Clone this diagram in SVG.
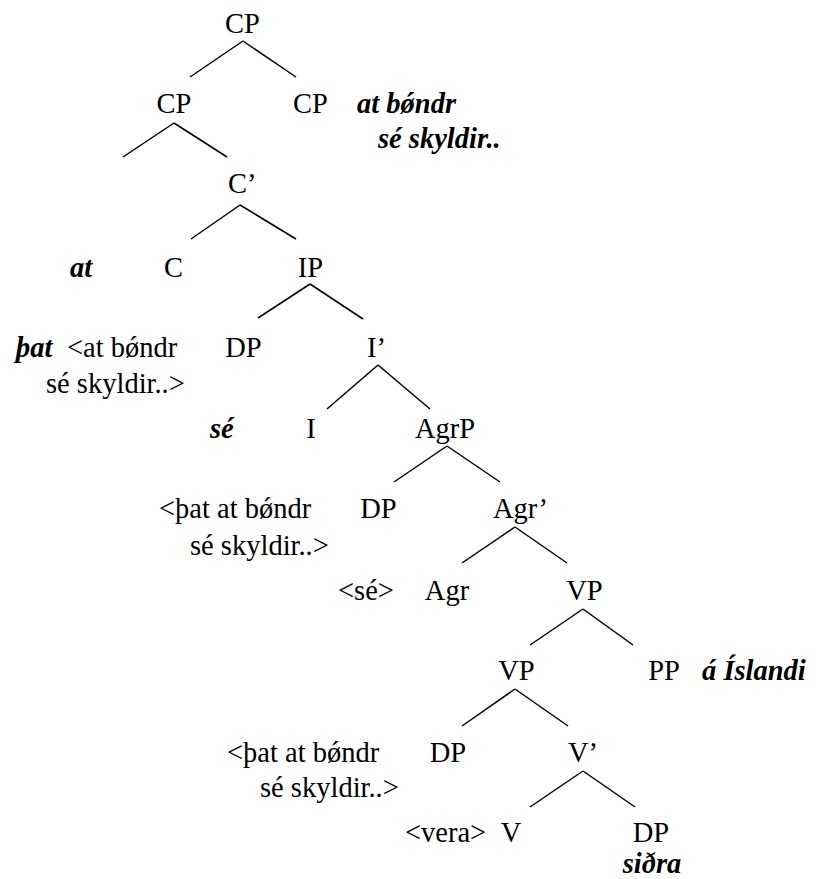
<svg xmlns="http://www.w3.org/2000/svg" width="816" height="879" viewBox="0 0 816 879">
  <style>
    text { font-family: "Liberation Serif", "Times New Roman", serif; font-size: 28.5px; fill: #000; }
    .n { text-anchor: middle; }
    .g { font-weight: bold; font-style: italic; }
    .edges line { stroke: #000; stroke-width: 1.5; stroke-linecap: butt; }
  </style>
  <rect width="816" height="879" fill="#fff"/>

  <!-- tree branches -->
  <g id="connectors" class="edges">
    <line x1="243" y1="41" x2="190" y2="77"/>
    <line x1="243" y1="41" x2="296" y2="77"/>
    <line x1="174" y1="123" x2="123" y2="157"/>
    <line x1="174" y1="123" x2="227" y2="157"/>
    <line x1="240" y1="205" x2="191" y2="239"/>
    <line x1="240" y1="205" x2="296" y2="239"/>
    <line x1="310" y1="284" x2="258" y2="318"/>
    <line x1="310" y1="284" x2="363" y2="319"/>
    <line x1="378" y1="365" x2="327" y2="409"/>
    <line x1="378" y1="365" x2="430" y2="409"/>
    <line x1="447" y1="446" x2="394" y2="482"/>
    <line x1="447" y1="446" x2="500" y2="482"/>
    <line x1="515" y1="527" x2="462" y2="563"/>
    <line x1="515" y1="527" x2="567" y2="563"/>
    <line x1="583" y1="609" x2="530" y2="645"/>
    <line x1="583" y1="609" x2="633" y2="645"/>
    <line x1="515" y1="689" x2="462" y2="726"/>
    <line x1="515" y1="689" x2="568" y2="726"/>
    <line x1="583" y1="771" x2="530" y2="807"/>
    <line x1="583" y1="771" x2="635" y2="807"/>
  </g>

  <!-- root and adjoined clause -->
  <g id="cp-root"><text class="n" x="242.5" y="33">CP</text></g>
  <g id="cp-main"><text class="n" x="174" y="113">CP</text></g>
  <g id="cp-adjunct"><text class="n" x="310.5" y="113">CP</text></g>
  <g id="cp-adjunct-gloss">
    <text class="g" x="357" y="113">at bǿndr</text>
    <text class="g" x="378" y="148">sé skyldir..</text>
  </g>

  <!-- C level -->
  <g id="c-bar"><text x="228" y="193">C’</text></g>
  <g id="c-gloss"><text class="g" x="70" y="277">at</text></g>
  <g id="c-head"><text class="n" x="173.5" y="277">C</text></g>
  <g id="ip"><text class="n" x="310.5" y="277">IP</text></g>

  <!-- I level -->
  <g id="ip-spec-gloss">
    <text class="g" x="16" y="357">þat</text>
    <text x="67" y="357">&lt;at bǿndr</text>
    <text x="46" y="393">sé skyldir..&gt;</text>
  </g>
  <g id="ip-spec"><text class="n" x="243.5" y="357">DP</text></g>
  <g id="i-bar"><text x="367" y="357">I’</text></g>
  <g id="i-gloss"><text class="g" x="210" y="438">sé</text></g>
  <g id="i-head"><text class="n" x="311" y="438">I</text></g>
  <g id="agrp"><text class="n" x="445" y="438">AgrP</text></g>

  <!-- Agr level -->
  <g id="agrp-spec-gloss">
    <text x="159" y="518">&lt;þat at bǿndr</text>
    <text x="190" y="555">sé skyldir..&gt;</text>
  </g>
  <g id="agrp-spec"><text class="n" x="378.5" y="518">DP</text></g>
  <g id="agr-bar"><text x="493" y="518">Agr’</text></g>
  <g id="agr-trace"><text x="338" y="600">&lt;sé&gt;</text></g>
  <g id="agr-head"><text class="n" x="447" y="600">Agr</text></g>
  <g id="vp-upper"><text class="n" x="584.5" y="600">VP</text></g>

  <!-- V level -->
  <g id="vp-lower"><text class="n" x="516.5" y="680">VP</text></g>
  <g id="pp"><text class="n" x="664" y="680">PP</text></g>
  <g id="pp-gloss"><text class="g" x="702" y="680">á Íslandi</text></g>
  <g id="vp-spec-gloss">
    <text x="227" y="762">&lt;þat at bǿndr</text>
    <text x="260" y="797">sé skyldir..&gt;</text>
  </g>
  <g id="vp-spec"><text class="n" x="448" y="762">DP</text></g>
  <g id="v-bar"><text x="568" y="762">V’</text></g>
  <g id="v-trace"><text x="405" y="842">&lt;vera&gt;</text></g>
  <g id="v-head"><text class="n" x="511" y="842">V</text></g>
  <g id="v-object">
    <text class="n" x="651" y="842">DP</text>
    <text class="n g" x="652" y="873">siðra</text>
  </g>
</svg>
